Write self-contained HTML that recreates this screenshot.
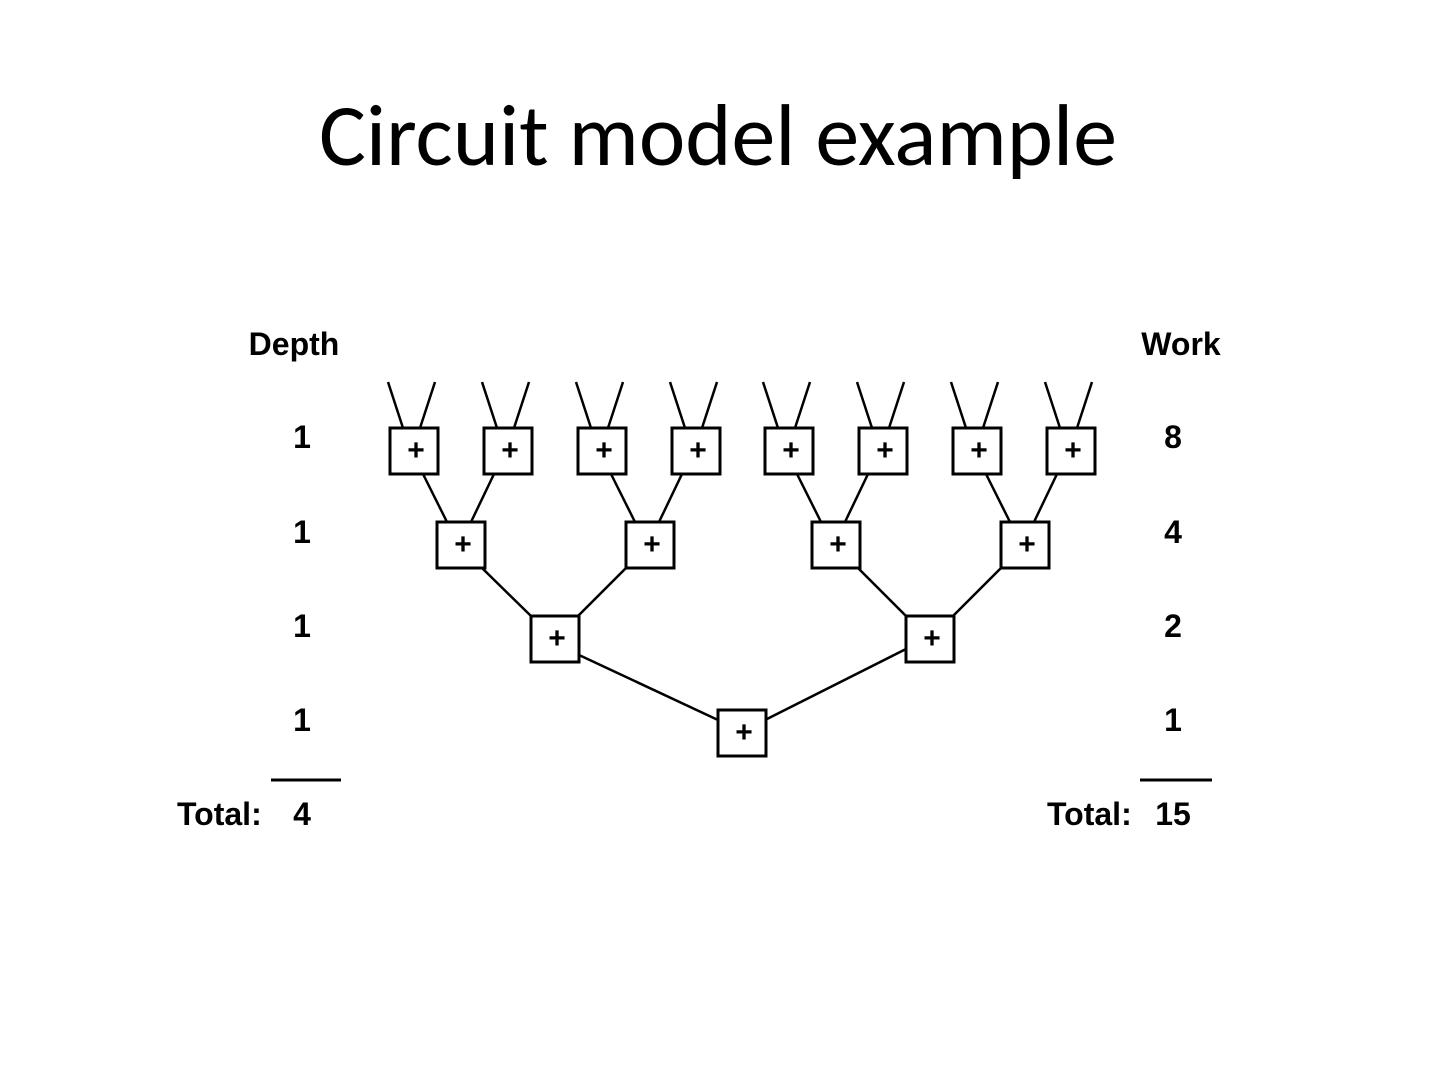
<!DOCTYPE html>
<html><head><meta charset="utf-8"><style>
html,body{margin:0;padding:0;background:#fff;}
svg{display:block;}
</style></head><body>
<svg width="1440" height="1080" viewBox="0 0 1440 1080" xmlns="http://www.w3.org/2000/svg">
<text x="718" y="165" text-anchor="middle" font-family="Carlito, 'Liberation Sans', sans-serif" font-size="88" fill="#000">Circuit model example</text>
<g font-family="'Liberation Sans', Arial, sans-serif" font-weight="bold" font-size="32" fill="#000">
<text x="294" y="355" text-anchor="middle">Depth</text>
<text x="1181" y="355" text-anchor="middle">Work</text>
<text x="302" y="448" text-anchor="middle">1</text>
<text x="302" y="543" text-anchor="middle">1</text>
<text x="302" y="637" text-anchor="middle">1</text>
<text x="302" y="731" text-anchor="middle">1</text>
<text x="1173" y="448" text-anchor="middle">8</text>
<text x="1173" y="543" text-anchor="middle">4</text>
<text x="1173" y="637" text-anchor="middle">2</text>
<text x="1173" y="731" text-anchor="middle">1</text>
<text x="177" y="825">Total:</text>
<text x="302" y="825" text-anchor="middle">4</text>
<text x="1047" y="825">Total:</text>
<text x="1173" y="825" text-anchor="middle">15</text>
</g>
<g stroke="#000" stroke-width="3">
<line x1="271" y1="780" x2="341" y2="780"/>
<line x1="1140" y1="780" x2="1212" y2="780"/>
</g>
<g stroke="#000" stroke-width="2.5" fill="none">
<path d="M388 382 L403 428 M435 382 L420 428"/>
<path d="M482 382 L497 428 M529 382 L514 428"/>
<path d="M576 382 L591 428 M623 382 L608 428"/>
<path d="M670 382 L685 428 M717 382 L702 428"/>
<path d="M763 382 L778 428 M810 382 L795 428"/>
<path d="M857 382 L872 428 M904 382 L889 428"/>
<path d="M951 382 L966 428 M998 382 L983 428"/>
<path d="M1045 382 L1060 428 M1092 382 L1077 428"/>
<path d="M423 474 L447 522 M494 474 L471 522"/>
<path d="M611 474 L635 522 M682 474 L659 522"/>
<path d="M797 474 L821 522 M868 474 L845 522"/>
<path d="M986 474 L1010 522 M1057 474 L1034 522"/>
<path d="M482 568 L531 616 M626 568 L578 616"/>
<path d="M858 568 L906 616 M1001 568 L953 616"/>
<path d="M579 655 L718 720 M906 649 L765 720"/>
</g>
<g stroke="#000" stroke-width="3" fill="#fff">
<rect x="390" y="428" width="48" height="46"/>
<rect x="484" y="428" width="48" height="46"/>
<rect x="578" y="428" width="48" height="46"/>
<rect x="672" y="428" width="48" height="46"/>
<rect x="765" y="428" width="48" height="46"/>
<rect x="859" y="428" width="48" height="46"/>
<rect x="953" y="428" width="48" height="46"/>
<rect x="1047" y="428" width="48" height="46"/>
<rect x="437" y="522" width="48" height="46"/>
<rect x="626" y="522" width="48" height="46"/>
<rect x="812" y="522" width="48" height="46"/>
<rect x="1001" y="522" width="48" height="46"/>
<rect x="531" y="616" width="48" height="46"/>
<rect x="906" y="616" width="48" height="46"/>
<rect x="718" y="710" width="48" height="46"/>
</g>
<g font-family="'Liberation Sans', Arial, sans-serif" font-weight="bold" font-size="30" fill="#000" text-anchor="middle">
<text x="416" y="460">+</text>
<text x="510" y="460">+</text>
<text x="604" y="460">+</text>
<text x="698" y="460">+</text>
<text x="791" y="460">+</text>
<text x="885" y="460">+</text>
<text x="979" y="460">+</text>
<text x="1073" y="460">+</text>
<text x="463" y="554">+</text>
<text x="652" y="554">+</text>
<text x="838" y="554">+</text>
<text x="1027" y="554">+</text>
<text x="557" y="648">+</text>
<text x="932" y="648">+</text>
<text x="744" y="742">+</text>
</g>
</svg>
</body></html>
